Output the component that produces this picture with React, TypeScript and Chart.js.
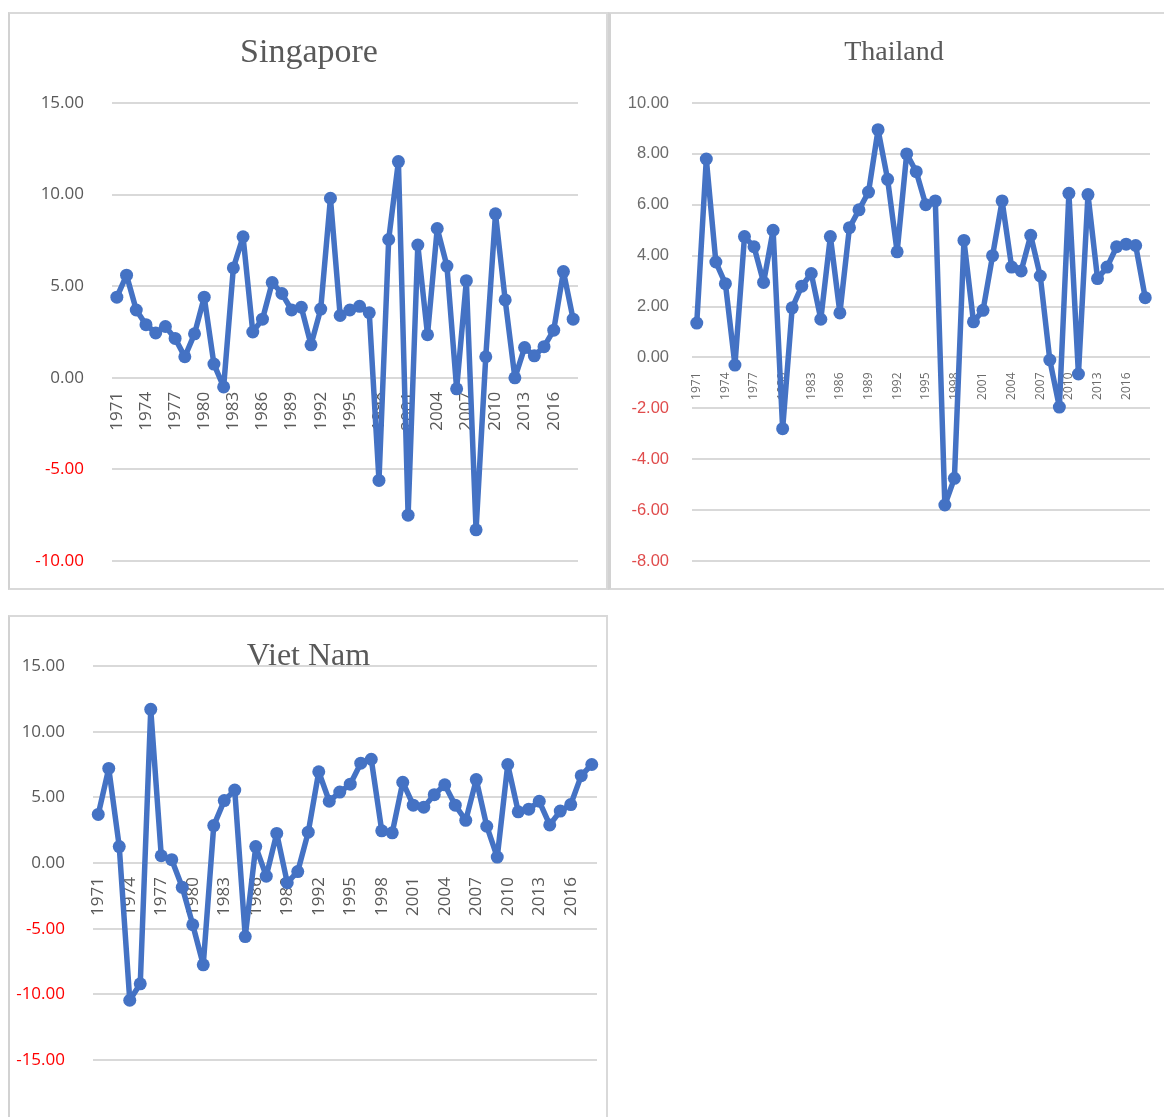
import React, { useEffect, useRef } from "react";
import { Chart, registerables } from "chart.js";

Chart.register(...registerables);

// ---- data ----
const years: string[] = [
  "1971","1972","1973","1974","1975","1976","1977","1978","1979","1980",
  "1981","1982","1983","1984","1985","1986","1987","1988","1989","1990",
  "1991","1992","1993","1994","1995","1996","1997","1998","1999","2000",
  "2001","2002","2003","2004","2005","2006","2007","2008","2009","2010",
  "2011","2012","2013","2014","2015","2016","2017","2018",
];

const singaporeValues: number[] = [
  4.4, 5.6, 3.7, 2.9, 2.45, 2.8, 2.15, 1.15, 2.4, 4.4,
  0.75, -0.5, 6.0, 7.7, 2.5, 3.2, 5.2, 4.6, 3.7, 3.85,
  1.8, 3.75, 9.8, 3.4, 3.7, 3.9, 3.55, -5.6, 7.55, 11.8,
  -7.5, 7.25, 2.35, 8.15, 6.1, -0.6, 5.3, -8.3, 1.15, 8.95,
  4.25, 0.0, 1.65, 1.2, 1.7, 2.6, 5.8, 3.2,
];

const thailandValues: number[] = [
  1.35, 7.8, 3.75, 2.9, -0.3, 4.75, 4.35, 2.95, 5.0, -2.8,
  1.95, 2.8, 3.3, 1.5, 4.75, 1.75, 5.1, 5.8, 6.5, 8.95,
  7.0, 4.15, 8.0, 7.3, 6.0, 6.15, -5.8, -4.75, 4.6, 1.4,
  1.85, 4.0, 6.15, 3.55, 3.4, 4.8, 3.2, -0.1, -1.95, 6.45,
  -0.65, 6.4, 3.1, 3.55, 4.35, 4.45, 4.4, 2.35,
];

const vietnamValues: number[] = [
  3.7, 7.2, 1.25, -10.45, -9.2, 11.7, 0.55, 0.25, -1.85, -4.7,
  -7.75, 2.85, 4.75, 5.55, -5.6, 1.25, -1.0, 2.25, -1.5, -0.65,
  2.35, 6.95, 4.7, 5.4, 6.0, 7.6, 7.9, 2.45, 2.3, 6.15,
  4.4, 4.25, 5.2, 5.95, 4.4, 3.25, 6.35, 2.8, 0.45, 7.5,
  3.9, 4.1, 4.7, 2.9, 3.95, 4.45, 6.65, 7.5,
];

const singaporeTicks = { min: -10, max: 15, step: 5 };
const thailandTicks = { min: -8, max: 10, step: 2 };
const vietnamTicks = { min: -15, max: 15, step: 5 };

const LINE_BLUE = "#4472C4";

type PanelProps = {
  title: string;
  values: number[];
  ticks: { min: number; max: number; step: number };
  box: { left: number; top: number; width: number; height: number; borderLeft?: number };
  canvasW: number;
  canvasH: number;
  axisW: number;
  rightW: number;
  padBottom: number;
  titleFont: number;
  titleLineHeight: number;
  titlePadTop: number;
  titlePadBottom: number;
  yFont: { family: string; size: number };
  yPad: number;
  xFont: { family: string; size: number };
  xPad: number;
  gray: string;
  red: string;
  pointRadius: number;
  lineWidth: number;
};

function Panel(p: PanelProps) {
  const ref = useRef<HTMLCanvasElement | null>(null);
  useEffect(() => {
    if (!ref.current) return;
    const chart = new Chart(ref.current, {
      type: "line",
      data: {
        labels: years,
        datasets: [
          {
            data: p.values,
            yAxisID: "y",
            borderColor: LINE_BLUE,
            backgroundColor: LINE_BLUE,
            borderWidth: p.lineWidth,
            borderJoinStyle: "round",
            borderCapStyle: "round",
            pointRadius: p.pointRadius,
            pointBackgroundColor: LINE_BLUE,
            pointBorderWidth: 0,
            tension: 0,
            clip: false,
          },
        ],
      },
      options: {
        responsive: false,
        animation: false,
        devicePixelRatio: 1,
        layout: { padding: { left: 0, right: 0, top: 0, bottom: p.padBottom } },
        plugins: {
          legend: { display: false },
          tooltip: { enabled: false },
          title: {
            display: true,
            text: p.title,
            color: "#595959",
            font: { family: "'Liberation Serif', 'Times New Roman', serif", size: p.titleFont, weight: "normal", lineHeight: p.titleLineHeight },
            padding: { top: p.titlePadTop, bottom: p.titlePadBottom },
          },
        },
        scales: {
          x: {
            type: "category",
            position: { y: 0 } as any,
            offset: true,
            afterFit: (s: any) => {
              s.paddingLeft = 0;
              s.paddingRight = 0;
              s.paddingTop = 0;
              s.paddingBottom = 0;
            },
            grid: { display: false, drawTicks: false },
            border: { display: false },
            ticks: {
              autoSkip: false,
              minRotation: 90,
              maxRotation: 90,
              padding: p.xPad,
              color: p.gray,
              font: { family: p.xFont.family, size: p.xFont.size },
              callback: (_v: any, i: number) => (i % 3 === 0 ? years[i] : ""),
            },
          },
          y: {
            position: "left",
            min: p.ticks.min,
            max: p.ticks.max,
            afterFit: (s: any) => {
              s.width = p.axisW;
            },
            grid: { color: "#d9d9d9", lineWidth: 2, drawTicks: false },
            border: { display: false },
            ticks: {
              stepSize: p.ticks.step,
              padding: p.yPad,
              font: { family: p.yFont.family, size: p.yFont.size },
              color: (ctx: any) => (ctx.tick && ctx.tick.value < 0 ? p.red : p.gray),
              callback: (v: any) => Number(v).toFixed(2),
            },
          },
          yRight: {
            type: "linear",
            position: "right",
            min: p.ticks.min,
            max: p.ticks.max,
            afterFit: (s: any) => {
              s.width = p.rightW;
            },
            grid: { display: false, drawOnChartArea: false, drawTicks: false },
            border: { display: false },
            ticks: { display: false },
          },
        },
      },
    });
    return () => chart.destroy();
  }, []);

  const bl = p.box.borderLeft ?? 2;
  return (
    <div
      style={{
        position: "absolute",
        left: p.box.left,
        top: p.box.top,
        width: p.box.width,
        height: p.box.height,
        boxSizing: "border-box",
        border: "2px solid #d9d9d9",
        borderLeft: `${bl}px solid #d2d2d2`,
        background: "#fff",
        overflow: "hidden",
      }}
    >
      <canvas ref={ref} width={p.canvasW} height={p.canvasH} style={{ display: "block" }} />
    </div>
  );
}

const sansFont = "'Open Sans', 'Noto Sans', sans-serif";
const thaiFont = "'Liberation Sans', Arial, sans-serif";

export default function App() {
  return (
    <div
      style={{
        position: "absolute",
        left: 0,
        top: 0,
        width: 1164,
        height: 1117,
        overflow: "hidden",
        background: "#fff",
      }}
    >
      <Panel
        title="Singapore"
        values={singaporeValues}
        ticks={singaporeTicks}
        box={{ left: 8, top: 12, width: 600, height: 578 }}
        canvasW={598}
        canvasH={634}
        axisW={102}
        rightW={30}
        padBottom={87}
        titleFont={34}
        titleLineHeight={1.2}
        titlePadTop={19.1}
        titlePadBottom={29.1}
        yFont={{ family: sansFont, size: 17 }}
        yPad={28}
        xFont={{ family: sansFont, size: 17 }}
        xPad={14}
        gray="#595959"
        red="#ff0000"
        pointRadius={6.5}
        lineWidth={5.5}
      />
      <Panel
        title="Thailand"
        values={thailandValues}
        ticks={thailandTicks}
        box={{ left: 608, top: 12, width: 600, height: 578, borderLeft: 3 }}
        canvasW={566}
        canvasH={634}
        axisW={81}
        rightW={27}
        padBottom={87}
        titleFont={28}
        titleLineHeight={1.2}
        titlePadTop={21.7}
        titlePadBottom={33.7}
        yFont={{ family: thaiFont, size: 16.5 }}
        yPad={23}
        xFont={{ family: sansFont, size: 12 }}
        xPad={15}
        gray="#6b6b6b"
        red="#e04c4c"
        pointRadius={6.5}
        lineWidth={5.5}
      />
      <Panel
        title="Viet Nam"
        values={vietnamValues}
        ticks={vietnamTicks}
        box={{ left: 8, top: 615, width: 600, height: 504 }}
        canvasW={597}
        canvasH={500}
        axisW={83}
        rightW={10}
        padBottom={57}
        titleFont={32}
        titleLineHeight={0.65}
        titlePadTop={28.8}
        titlePadBottom={-0.6}
        yFont={{ family: sansFont, size: 17 }}
        yPad={28}
        xFont={{ family: sansFont, size: 17 }}
        xPad={14}
        gray="#595959"
        red="#ff0000"
        pointRadius={6.5}
        lineWidth={5.5}
      />
    </div>
  );
}
